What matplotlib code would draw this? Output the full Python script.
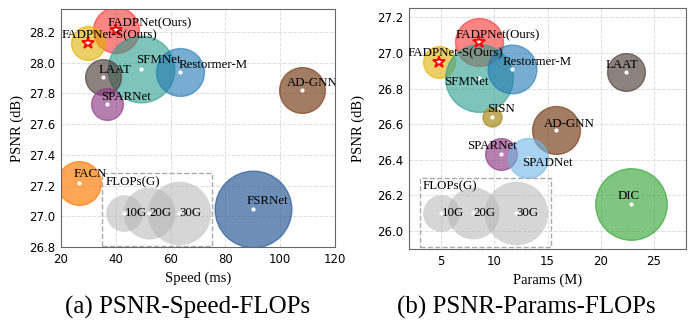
import matplotlib
matplotlib.use("Agg")
import matplotlib.pyplot as plt
from matplotlib.patches import Rectangle

# PSNR vs speed (left) and vs params (right), bubble area ~ FLOPs
names_a = ["FADPNet(Ours)", "FADPNet-S(Ours)", "SFMNet", "Restormer-M", "LAAT",
           "SPARNet", "AD-GNN", "FACN", "FSRNet"]
speed_a = [40, 30, 49.3, 63.4, 35.4, 36.7, 108, 26.7, 90]
psnr_a = [28.21, 28.13, 27.96, 27.94, 27.91, 27.73, 27.82, 27.22, 27.05]
flops_a = [15.6, 8.5, 33, 17, 9.5, 7.5, 15.5, 14.2, 43.6]

names_b = ["FADPNet(Ours)", "FADPNet-S(Ours)", "SFMNet", "Restormer-M", "LAAT",
           "SISN", "AD-GNN", "SPARNet", "SPADNet", "DIC"]
params_b = [8.6, 4.85, 8.6, 11.7, 22.4, 9.8, 15.8, 10.6, 13.2, 22.8]
psnr_b = [27.06, 26.95, 26.86, 26.91, 26.89, 26.64, 26.57, 26.43, 26.41, 26.15]
flops_b = [17, 7.5, 34, 17.6, 10.6, 2.7, 17, 7.5, 11.8, 38]

legend_flops = [10, 20, 30]
legend_x_a = [43, 52, 63]
legend_x_b = [5, 8, 12]
legend_y_a = 27.02
legend_y_b = 26.1

colors = {
    "FADPNet(Ours)": ("#ff2020", 0.55),
    "FADPNet-S(Ours)": ("#e0b000", 0.6),
    "SFMNet": ("#2a9d8f", 0.6),
    "Restormer-M": ("#1f77b4", 0.6),
    "LAAT": ("#4f3f38", 0.65),
    "SPARNet": ("#8e3b85", 0.65),
    "AD-GNN": ("#7d4522", 0.7),
    "FACN": ("#ff7f0e", 0.7),
    "FSRNet": ("#2e5f99", 0.7),
    "SISN": ("#a88a1e", 0.7),
    "SPADNet": ("#6fb7e6", 0.6),
    "DIC": ("#2ca02c", 0.6),
}

# label offsets in pixels (dx, dy) from the bubble centre
offs_a = {"FADPNet(Ours)": (34, 7), "FADPNet-S(Ours)": (21, 7), "SFMNet": (17, 9),
          "Restormer-M": (33, 7), "LAAT": (12, 7), "SPARNet": (19, 7),
          "AD-GNN": (10, 7), "FACN": (11, 9), "FSRNet": (15, 8)}
offs_b = {"FADPNet(Ours)": (18, 7), "FADPNet-S(Ours)": (16, 9), "SFMNet": (-13, -4),
          "Restormer-M": (25, 7), "LAAT": (-4, 7), "SISN": (9, 8), "AD-GNN": (13, 6),
          "SPARNet": (-9, 8), "SPADNet": (19, -5), "DIC": (-2, 8)}

SCALE = 70.0
serif = "Liberation Serif"

fig = plt.figure(figsize=(6.88, 3.2), dpi=100)
ax1 = fig.add_axes([0.0887, 0.228, 0.398, 0.744])
ax2 = fig.add_axes([0.5945, 0.222, 0.4026, 0.752])


def draw(ax, names, xs, ys, flops, offs, lx, ly, rect):
    ax.set_axisbelow(True)
    ax.grid(True, linestyle="--", color="#dddddd", linewidth=0.7)
    for n, x, y, f in zip(names, xs, ys, flops):
        c, a = colors[n]
        ax.scatter(x, y, s=f * SCALE, color=c, alpha=a, edgecolors=c, linewidths=1, zorder=2)
    # FLOPs legend bubbles
    for x, f in zip(lx, legend_flops):
        ax.scatter(x, ly, s=f * SCALE, color="#b5b5b5", alpha=0.55, linewidths=0, zorder=2)
        ax.scatter(x, ly, s=4, color="white", zorder=4)
        ax.annotate(f"{f}G", (x, ly), xytext=(1, 0), textcoords="offset pixels",
                    ha="left", va="center", family=serif, fontsize=9.3, zorder=5)
    ax.add_patch(Rectangle((rect[0], rect[1]), rect[2] - rect[0], rect[3] - rect[1],
                           fill=False, ls="--", ec="#aaaaaa", lw=1, zorder=3))
    ax.annotate("FLOPs(G)", (rect[0], rect[3]), xytext=(3, -9), textcoords="offset pixels",
                ha="left", va="center", family=serif, fontsize=9.3, zorder=5)
    for n, x, y in zip(names, xs, ys):
        if "Ours" in n:
            ax.plot(x, y, marker="*", ms=9, mfc="white", mec="red", mew=1.3, zorder=4)
        else:
            ax.scatter(x, y, s=4, color="white", zorder=4)
        dx, dy = offs[n]
        t = ax.annotate(n, (x, y), xytext=(dx, dy), textcoords="offset pixels",
                        ha="center", va="center", family=serif, fontsize=9.3, zorder=5)
        t.set_clip_on(True)
        t.set_clip_box(ax.bbox)
    for sp in ax.spines.values():
        sp.set_color("#666666")
    ax.tick_params(length=0, labelsize=8.5, pad=4)


draw(ax1, names_a, speed_a, psnr_a, flops_a, offs_a, legend_x_a, legend_y_a,
     (35, 26.81, 75.3, 27.28))
ax1.set_xlim(20, 120)
ax1.set_ylim(26.8, 28.35)
ax1.set_xticks([20, 40, 60, 80, 100, 120])
ax1.set_yticks([26.8, 27.0, 27.2, 27.4, 27.6, 27.8, 28.0, 28.2])
ax1.set_xlabel("Speed (ms)", family=serif, fontsize=10.5)
ax1.set_ylabel("PSNR (dB)", family=serif, fontsize=10.5)

draw(ax2, names_b, params_b, psnr_b, flops_b, offs_b, legend_x_b, legend_y_b,
     (3.0, 25.91, 15.3, 26.3))
ax2.set_xlim(2, 28)
ax2.set_ylim(25.9, 27.25)
ax2.set_xticks([5, 10, 15, 20, 25])
ax2.set_yticks([26.0, 26.2, 26.4, 26.6, 26.8, 27.0, 27.2])
ax2.set_xlabel("Params (M)", family=serif, fontsize=10.5)
ax2.set_ylabel("PSNR (dB)", family=serif, fontsize=10.5, labelpad=9)

fig.text(0.273, 0.04, "(a) PSNR-Speed-FLOPs", family=serif, fontsize=18, ha="center", va="center")
fig.text(0.765, 0.04, "(b) PSNR-Params-FLOPs", family=serif, fontsize=18, ha="center", va="center")

fig.savefig("out.png", dpi=100)
